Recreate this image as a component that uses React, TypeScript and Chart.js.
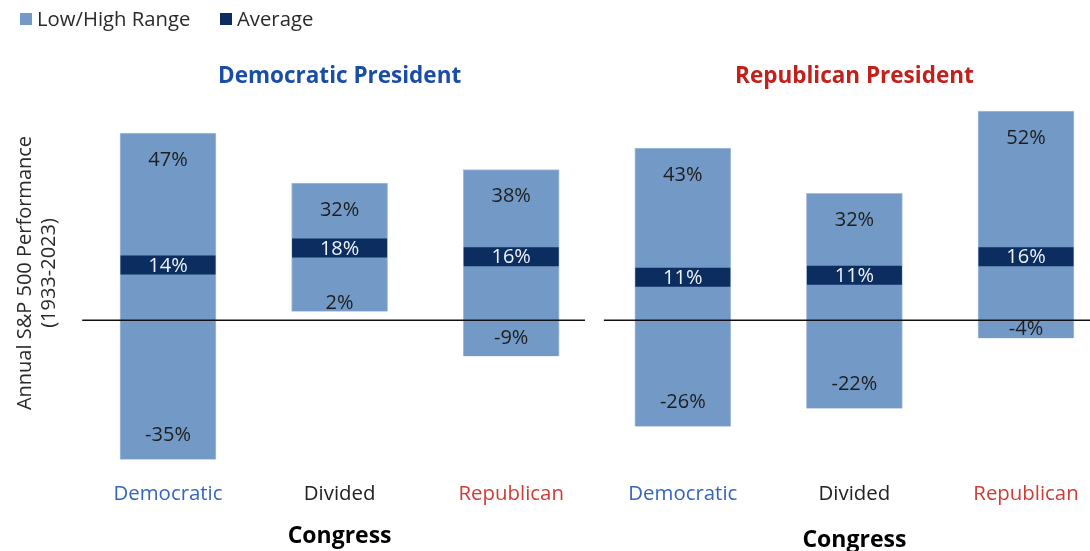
import React, { useEffect, useRef } from "react";
import { Chart, registerables } from "chart.js";

Chart.register(...registerables);

// ---- data ----
const presidents = ["Democratic President", "Republican President"];
const congress = ["Democratic", "Divided", "Republican"];
const highs = [47.1, 34.5, 37.9, 43.3, 31.9, 52.6];
const lows = [-35.0, 2.2, -9.05, -26.7, -22.2, -4.5];
const averages = [13.9, 18.2, 16.0, 10.8, 11.3, 16.0];
const highLabels = ["47%", "32%", "38%", "43%", "32%", "52%"];
const lowLabels = ["-35%", "2%", "-9%", "-26%", "-22%", "-4%"];
const avgLabels = ["14%", "18%", "16%", "11%", "11%", "16%"];
const seriesNames = ["Low/High Range", "Average"];
const yTitle = ["Annual S&P 500 Performance", "(1933-2023)"];
const xTitle = "Congress";

// ---- styles ----
const FONT = '"Open Sans", sans-serif';
const RANGE_COLOR = "#7399c6";
const AVG_COLOR = "#0b2d5f";
const presidentColors = ["#1a4ea6", "#c1201b"];
const congressColors = ["#3565bf", "#222222", "#d13b35"];

const W = 1090;
const H = 551;

const overlayPlugin = {
  id: "overlay",
  afterDatasetsDraw(chart: any) {
    const ctx = chart.ctx as CanvasRenderingContext2D;
    const xs = chart.scales.x;
    const ys = chart.scales.y;
    const y0 = ys.getPixelForValue(0);
    ctx.save();

    // zero lines per panel
    ctx.strokeStyle = "#111";
    ctx.lineWidth = 1.5;
    presidents.forEach((_, p) => {
      const first = p * congress.length;
      const last = first + congress.length - 1;
      const a = xs.getPixelForValue(p === 0 ? first - 0.5 : first - 0.46);
      const b = xs.getPixelForValue(p === 0 ? last + 0.43 : last + 0.5);
      ctx.beginPath();
      ctx.moveTo(a, y0);
      ctx.lineTo(b, y0);
      ctx.stroke();
    });

    // value labels
    ctx.textAlign = "center";
    ctx.textBaseline = "middle";
    ctx.font = `20px ${FONT}`;
    highs.forEach((hv, i) => {
      const cx = xs.getPixelForValue(i);
      const top = ys.getPixelForValue(hv);
      const bottom = ys.getPixelForValue(lows[i]);
      ctx.fillStyle = "#1e1e1e";
      ctx.fillText(highLabels[i], cx, top + 27);
      const off = lows[i] < 0 ? Math.min(24, (bottom - y0) / 2) : 8;
      ctx.fillText(lowLabels[i], cx, bottom - off);
      ctx.fillStyle = "#eef2f8";
      ctx.fillText(avgLabels[i], cx, ys.getPixelForValue(averages[i]) + 1);
    });

    // panel titles, category labels, axis titles
    presidents.forEach((name, p) => {
      const mid = xs.getPixelForValue(p * congress.length + 1);
      ctx.fillStyle = presidentColors[p];
      ctx.font = `bold 22.5px ${FONT}`;
      ctx.fillText(name, mid, 77);
      congress.forEach((c, k) => {
        ctx.fillStyle = congressColors[k];
        ctx.font = `20.4px ${FONT}`;
        ctx.fillText(c, xs.getPixelForValue(p * congress.length + k), 494);
      });
      ctx.fillStyle = "#000";
      ctx.font = `bold 23px ${FONT}`;
      ctx.fillText(xTitle, mid, p === 0 ? 536 : 540);
    });

    // y title
    ctx.save();
    ctx.translate(0, 273);
    ctx.rotate(-Math.PI / 2);
    ctx.fillStyle = "#2a2a2a";
    ctx.font = `20px ${FONT}`;
    ctx.fillText(yTitle[0], 0, 25);
    ctx.fillText(yTitle[1], 0, 49);
    ctx.restore();

    // legend
    const legendColors = [RANGE_COLOR, AVG_COLOR];
    const legendX = [20, 220];
    ctx.textAlign = "left";
    ctx.font = `20.3px ${FONT}`;
    seriesNames.forEach((s, i) => {
      ctx.fillStyle = legendColors[i];
      ctx.fillRect(legendX[i], 13, 12, 12);
      ctx.fillStyle = "#2a2a2a";
      ctx.fillText(s, legendX[i] + 17, 20);
    });

    ctx.restore();
  },
};

export default function App() {
  const ref = useRef<HTMLCanvasElement | null>(null);

  useEffect(() => {
    if (!ref.current) return;
    const step = 171.6;
    const firstCenter = 168;
    const chart = new Chart(ref.current, {
      type: "bar",
      data: {
        datasets: [
          {
            type: "bar",
            label: seriesNames[0],
            data: highs.map((h, i) => ({ x: i, y: [lows[i], h] })) as any,
            backgroundColor: RANGE_COLOR,
            borderColor: "#a6bfdd",
            borderWidth: 1,
            barThickness: 96,
            grouped: false,
            order: 2,
          } as any,
          {
            type: "line",
            label: seriesNames[1],
            data: averages.map((a, i) => ({ x: i, y: a })),
            showLine: false,
            pointStyle: "line",
            pointRadius: 47.5,
            pointBorderWidth: 19,
            pointBorderColor: AVG_COLOR,
            pointBackgroundColor: AVG_COLOR,
            clip: false,
            order: 1,
          } as any,
        ],
      },
      options: {
        responsive: false,
        animation: false,
        devicePixelRatio: 1,
        events: [],
        layout: { autoPadding: false, padding: { top: 101.6, bottom: 71.7, left: 0, right: 0 } },
        plugins: { legend: { display: false }, tooltip: { enabled: false } },
        scales: {
          x: {
            type: "linear",
            display: false,
            offset: false,
            bounds: "data",
            min: -firstCenter / step,
            max: (W - firstCenter) / step,
            grid: { offset: false },
          },
          y: { type: "linear", display: false, min: -40, max: 55 },
        },
      } as any,
      plugins: [overlayPlugin],
    });
    return () => chart.destroy();
  }, []);

  return (
    <div style={{ position: "fixed", left: 0, top: 0, width: W, height: H, background: "#fff" }}>
      <canvas ref={ref} width={W} height={H} style={{ width: W, height: H }} />
    </div>
  );
}
